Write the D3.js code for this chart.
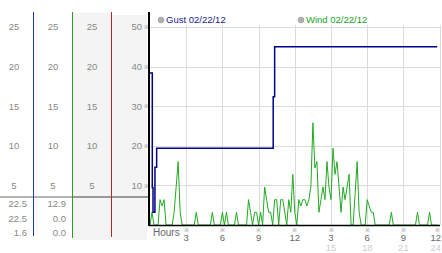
<!DOCTYPE html>
<html>
<head>
<meta charset="utf-8">
<script src="https://cdn.jsdelivr.net/npm/d3@7"></script>
<style>
body { margin: 0; background: #fff; }
text { font-family: "Liberation Sans", Arial, sans-serif; }
</style>
</head>
<body>
<script>
// data
var leftTicks = [5, 10, 15, 20, 25];
var rightTicks = [10, 20, 30, 40, 50];
var hourTicks = [3, 6, 9, 12, 15, 18, 21, 24];
var hourLabels = ["3", "6", "9", "12", "3", "6", "9", "12"];
var hourLabels24 = ["", "", "", "", "15", "18", "21", "24"];
var legendNames = ["Gust 02/22/12", "Wind 02/22/12"];
var gustStats = ["22.5", "22.5", "1.6"];
var windStats = ["12.9", "0.0", "0.0"];

// gust is a step series (hour, value)
var gustHours = [0, 0.19, 0.25, 0.41, 0.55, 10.21, 10.33, 23.8];
var gustValues = [19.2, 4.7, 1.6, 7.3, 9.7, 16.2, 22.5, 22.5];

// wind, one sample every 10 minutes (6 per hour)
var windValues = [
  0, 1.6, 0, 0, 0, 3.2,
  2.4, 3.2, 0, 0, 0, 0,
  1.6, 4.8, 8.0, 1.6, 0, 0,
  0, 0, 0, 0, 0, 1.6,
  0, 0, 0, 0, 0, 0,
  0, 1.6, 0, 0, 0, 0,
  1.6, 0, 1.6, 0, 0, 0,
  0, 1.6, 0, 0, 0, 0,
  0, 3.2, 1.6, 0, 1.6, 1.6,
  0, 1.6, 0, 4.8, 3.2, 1.6,
  1.6, 0, 3.2, 3.2, 0, 3.2,
  3.2, 1.6, 0, 3.2, 1.6, 6.4,
  1.6, 0, 3.2, 2.4, 3.2, 3.2,
  2.4, 3.2, 4.8, 12.9, 7.2, 8.0,
  1.6, 3.2, 4.8, 3.2, 8.0, 4.8,
  3.2, 9.7, 6.4, 8.0, 4.8, 1.6,
  4.8, 3.2, 4.8, 6.4, 0, 0,
  4.0, 8.0, 1.6, 0, 0, 0,
  3.2, 2.4, 1.6, 1.6, 0, 0,
  0, 0, 0, 0, 0, 0,
  1.6, 0, 0, 0, 0, 0,
  0, 0, 0, 0, 0, 0,
  0, 1.6, 0, 0, 0, 0,
  0, 1.6, 0, 0, 0, 0
];

var width = 442, height = 253;

var svg = d3.select("body").append("svg")
    .attr("width", width)
    .attr("height", height);

//scales
var xScale = d3.scaleLinear().domain([0, 24]).range([150, 439.6]);
var yScale = d3.scaleLinear().domain([0, 25]).range([225, 27]);
var y2Scale = d3.scaleLinear().domain([0, 50]).range([225, 27]);

// ---- left panel ----
svg.append("rect").attr("x", 73).attr("y", 13).attr("width", 38).attr("height", 227).attr("fill", "#f4f4f4");
svg.append("rect").attr("x", 112).attr("y", 15).attr("width", 35).attr("height", 225).attr("fill", "#f4f4f4");

var colCenters = [14, 53, 92];
colCenters.forEach(function(cx) {
    svg.selectAll(null)
        .data(leftTicks)
        .enter()
        .append("text")
        .attr("x", cx)
        .attr("y", function(d) { return yScale(d); })
        .attr("dy", "0.35em")
        .attr("text-anchor", "middle")
        .attr("font-size", "9.5px")
        .attr("fill", "#888")
        .text(function(d) { return d; });
});

svg.selectAll(null)
    .data(rightTicks)
    .enter()
    .append("text")
    .attr("x", 142)
    .attr("y", function(d) { return y2Scale(d); })
    .attr("dy", "0.35em")
    .attr("text-anchor", "end")
    .attr("font-size", "9.5px")
    .attr("fill", "#888")
    .text(function(d) { return d; });

// separator line above the stats
svg.append("rect").attr("x", 0).attr("y", 196).attr("width", 73).attr("height", 2).attr("fill", "#b4b4b4");
svg.append("rect").attr("x", 73).attr("y", 196).attr("width", 76).attr("height", 2).attr("fill", "#999");

// column lines
var colLines = svg.append("g").attr("shape-rendering", "crispEdges");
colLines.append("rect").attr("x", 33).attr("y", 12).attr("width", 1.2).attr("height", 224).attr("fill", "#1840b0");
colLines.append("rect").attr("x", 72).attr("y", 12).attr("width", 1.2).attr("height", 226).attr("fill", "#28a028");
colLines.append("rect").attr("x", 111).attr("y", 12).attr("width", 1.2).attr("height", 225).attr("fill", "#b02828");

// stats
svg.selectAll(null)
    .data(gustStats)
    .enter()
    .append("text")
    .attr("x", 27)
    .attr("y", function(d, i) { return 204 + i * 14.2; })
    .attr("dy", "0.35em")
    .attr("text-anchor", "end")
    .attr("font-size", "9.5px")
    .attr("fill", "#888")
    .text(function(d) { return d; });

svg.selectAll(null)
    .data(windStats)
    .enter()
    .append("text")
    .attr("x", 66)
    .attr("y", function(d, i) { return 204 + i * 14.2; })
    .attr("dy", "0.35em")
    .attr("text-anchor", "end")
    .attr("font-size", "9.5px")
    .attr("fill", "#888")
    .text(function(d) { return d; });

// ---- chart ----
var grid = svg.append("g");
grid.selectAll(null)
    .data(leftTicks)
    .enter()
    .append("line")
    .attr("x1", 150).attr("x2", 440)
    .attr("y1", function(d) { return Math.round(yScale(d)) + 0.5; })
    .attr("y2", function(d) { return Math.round(yScale(d)) + 0.5; })
    .attr("stroke", "#dcdcdc");
grid.selectAll(null)
    .data(hourTicks)
    .enter()
    .append("line")
    .attr("x1", function(d) { return Math.round(xScale(d)) + 0.5; })
    .attr("x2", function(d) { return Math.round(xScale(d)) + 0.5; })
    .attr("y1", 25).attr("y2", 225)
    .attr("stroke", "#dcdcdc");

// tick marks drawn as small glyphs
svg.selectAll(null)
    .data(leftTicks)
    .enter()
    .append("text")
    .attr("x", 146)
    .attr("y", function(d) { return yScale(d); })
    .attr("dy", "0.35em")
    .attr("text-anchor", "middle")
    .attr("font-size", "6px")
    .attr("fill", "#999")
    .text("\u203B");

svg.selectAll(null)
    .data(hourTicks)
    .enter()
    .append("text")
    .attr("x", function(d) { return Math.min(xScale(d), 437); })
    .attr("y", 230)
    .attr("dy", "0.35em")
    .attr("text-anchor", "middle")
    .attr("font-size", "6px")
    .attr("fill", "#999")
    .text("\u203B");

// hour labels
svg.selectAll(null)
    .data(hourTicks)
    .enter()
    .append("text")
    .attr("x", function(d, i) { return i == hourTicks.length - 1 ? 441 : xScale(d); })
    .attr("y", 237.5)
    .attr("dy", "0.35em")
    .attr("text-anchor", function(d, i) { return i == hourTicks.length - 1 ? "end" : "middle"; })
    .attr("font-size", "9.5px")
    .attr("fill", "#666")
    .text(function(d, i) { return hourLabels[i]; });

svg.selectAll(null)
    .data(hourTicks)
    .enter()
    .append("text")
    .attr("x", function(d, i) { return i == hourTicks.length - 1 ? 441 : xScale(d); })
    .attr("y", 248)
    .attr("dy", "0.35em")
    .attr("text-anchor", function(d, i) { return i == hourTicks.length - 1 ? "end" : "middle"; })
    .attr("font-size", "9.5px")
    .attr("fill", "#ccc")
    .text(function(d, i) { return hourLabels24[i]; });

svg.append("text")
    .attr("x", 153).attr("y", 232)
    .attr("dy", "0.35em")
    .attr("font-size", "10px")
    .attr("fill", "#666")
    .text("Hours");

// wind line
var windLine = d3.line()
    .x(function(d, i) { return xScale(i / 6); })
    .y(function(d) { return yScale(d); });

svg.append("path")
    .datum(windValues)
    .attr("d", windLine)
    .attr("fill", "none")
    .attr("stroke", "#22aa22")
    .attr("stroke-width", 1);

// axes lines
svg.append("line").attr("x1", 149).attr("x2", 149).attr("y1", 12).attr("y2", 226).attr("stroke", "#000").attr("stroke-width", 2);
svg.append("line").attr("x1", 149).attr("x2", 440).attr("y1", 225.5).attr("y2", 225.5).attr("stroke", "#000").attr("stroke-width", 1.5);

// gust line
var gustLine = d3.line()
    .x(function(d) { return xScale(d[0]); })
    .y(function(d) { return yScale(d[1]); })
    .curve(d3.curveStepAfter);

svg.append("path")
    .datum(d3.zip(gustHours, gustValues))
    .attr("d", gustLine)
    .attr("fill", "none")
    .attr("stroke", "#000088")
    .attr("stroke-width", 1.5);

// legend
var legendX = [161, 301];
var legendColors = ["#1a1a90", "#22a022"];
legendNames.forEach(function(name, i) {
    svg.append("circle")
        .attr("cx", legendX[i]).attr("cy", 20).attr("r", 3)
        .attr("fill", "#b0b0b0").attr("stroke", "#999").attr("stroke-width", 0.5);
    svg.append("text")
        .attr("x", legendX[i] + 5).attr("y", 20)
        .attr("dy", "0.35em")
        .attr("font-size", "9.5px")
        .attr("fill", legendColors[i])
        .text(name);
});
</script>
</body>
</html>
